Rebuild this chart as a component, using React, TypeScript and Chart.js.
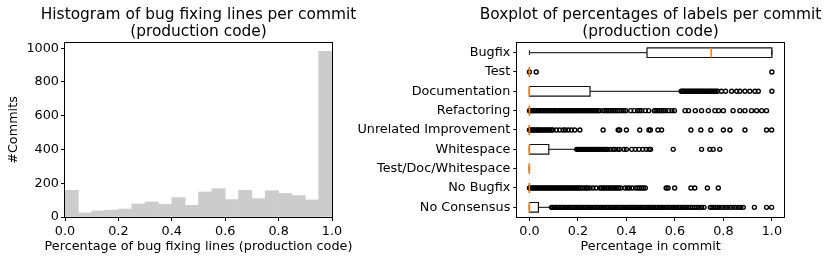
import React, { useEffect, useRef } from 'react';
import { Chart, registerables } from 'chart.js';

Chart.register(...registerables);
Chart.defaults.font.family = "'DejaVu Sans', sans-serif";
Chart.defaults.color = '#000';

// ---------- Histogram data ----------
const histBinEdges = [0, 0.05, 0.1, 0.15, 0.2, 0.25, 0.3, 0.35, 0.4, 0.45, 0.5, 0.55, 0.6, 0.65, 0.7, 0.75, 0.8, 0.85, 0.9, 0.95, 1.0];
const histCounts = [158, 24, 36, 40, 47, 77, 89, 75, 115, 69, 148, 168, 103, 158, 109, 156, 140, 127, 101, 982];
const histXTicks = [0, 0.2, 0.4, 0.6, 0.8, 1.0];
const histYTicks = [0, 200, 400, 600, 800, 1000];
const histYMax = 1031;

// ---------- Boxplot data ----------
const boxCategories = ['Bugfix', 'Test', 'Documentation', 'Refactoring', 'Unrelated Improvement', 'Whitespace', 'Test/Doc/Whitespace', 'No Bugfix', 'No Consensus'];
const whiskerLow = [0, 0, 0, 0, 0, 0, 0, 0, 0];
const quartile1 = [0.485, 0, 0, 0, 0, 0, 0, 0, 0];
const medians = [0.75, 0, 0, 0, 0, 0, 0, 0, 0];
const quartile3 = [1.0, 0, 0.25, 0, 0, 0.08, 0, 0, 0.037];
const whiskerHigh = [1.0, 0, 0.625, 0, 0, 0.194, 0, 0, 0.089];

const outliersBugfix: number[] = [];
const outliersTest = [0.0, 0.028, 1.0];
const outliersDocumentation = [0.626, 0.631, 0.637, 0.642, 0.649, 0.655, 0.66, 0.667, 0.672, 0.678, 0.685, 0.69, 0.697, 0.702, 0.709, 0.714, 0.72, 0.727, 0.732, 0.739, 0.745, 0.751, 0.756, 0.763, 0.769, 0.776, 0.792, 0.809, 0.834, 0.855, 0.868, 0.889, 0.909, 0.93, 0.944, 1.0];
const outliersRefactoring = [0.0, 0.004, 0.009, 0.015, 0.021, 0.027, 0.034, 0.04, 0.047, 0.053, 0.06, 0.066, 0.073, 0.08, 0.086, 0.093, 0.099, 0.106, 0.112, 0.119, 0.126, 0.132, 0.139, 0.145, 0.152, 0.158, 0.165, 0.172, 0.178, 0.185, 0.191, 0.198, 0.204, 0.211, 0.218, 0.224, 0.231, 0.237, 0.244, 0.251, 0.257, 0.264, 0.27, 0.277, 0.284, 0.29, 0.304, 0.311, 0.318, 0.326, 0.333, 0.341, 0.348, 0.356, 0.364, 0.371, 0.38, 0.39, 0.398, 0.418, 0.432, 0.446, 0.455, 0.463, 0.478, 0.492, 0.515, 0.522, 0.53, 0.538, 0.545, 0.553, 0.562, 0.575, 0.588, 0.598, 0.642, 0.656, 0.684, 0.71, 0.738, 0.765, 0.78, 0.8, 0.84, 0.868, 0.889, 0.916, 0.937, 0.958, 0.978];
const outliersUnrelated = [0.0, 0.005, 0.011, 0.017, 0.023, 0.029, 0.035, 0.041, 0.047, 0.053, 0.06, 0.066, 0.072, 0.078, 0.085, 0.091, 0.097, 0.111, 0.125, 0.139, 0.148, 0.16, 0.173, 0.187, 0.208, 0.304, 0.366, 0.372, 0.4, 0.455, 0.493, 0.499, 0.53, 0.545, 0.666, 0.707, 0.748, 0.8, 0.827, 0.889, 0.978, 0.999];
const outliersWhitespace = [0.195, 0.2, 0.206, 0.212, 0.218, 0.224, 0.23, 0.236, 0.242, 0.248, 0.254, 0.26, 0.266, 0.272, 0.278, 0.284, 0.29, 0.296, 0.302, 0.309, 0.316, 0.322, 0.333, 0.345, 0.352, 0.365, 0.372, 0.39, 0.4, 0.422, 0.437, 0.452, 0.467, 0.482, 0.494, 0.5, 0.593, 0.71, 0.744, 0.758, 0.785];
const outliersTestDocWhitespace: number[] = [];
const outliersNoBugfix = [0.0, 0.005, 0.011, 0.017, 0.023, 0.029, 0.035, 0.041, 0.047, 0.053, 0.059, 0.065, 0.071, 0.077, 0.083, 0.089, 0.095, 0.101, 0.107, 0.113, 0.119, 0.125, 0.131, 0.137, 0.143, 0.149, 0.155, 0.161, 0.167, 0.173, 0.179, 0.185, 0.191, 0.197, 0.203, 0.21, 0.218, 0.226, 0.234, 0.24, 0.25, 0.262, 0.275, 0.29, 0.297, 0.304, 0.311, 0.318, 0.325, 0.332, 0.339, 0.346, 0.353, 0.36, 0.368, 0.376, 0.394, 0.404, 0.413, 0.424, 0.438, 0.447, 0.455, 0.463, 0.47, 0.478, 0.564, 0.572, 0.599, 0.666, 0.682, 0.734, 0.779];
const outliersNoConsensus = [0.091, 0.096, 0.103, 0.109, 0.116, 0.122, 0.13, 0.136, 0.143, 0.149, 0.157, 0.163, 0.17, 0.176, 0.184, 0.19, 0.197, 0.203, 0.211, 0.217, 0.224, 0.23, 0.238, 0.244, 0.251, 0.257, 0.265, 0.271, 0.278, 0.284, 0.292, 0.298, 0.305, 0.311, 0.319, 0.325, 0.332, 0.338, 0.346, 0.352, 0.359, 0.365, 0.373, 0.379, 0.386, 0.392, 0.4, 0.406, 0.413, 0.419, 0.427, 0.433, 0.44, 0.446, 0.454, 0.46, 0.467, 0.473, 0.481, 0.487, 0.494, 0.5, 0.508, 0.514, 0.521, 0.527, 0.535, 0.541, 0.548, 0.554, 0.562, 0.568, 0.575, 0.581, 0.589, 0.595, 0.602, 0.608, 0.616, 0.622, 0.629, 0.635, 0.643, 0.649, 0.657, 0.664, 0.672, 0.681, 0.69, 0.699, 0.71, 0.72, 0.746, 0.753, 0.761, 0.768, 0.776, 0.786, 0.797, 0.808, 0.818, 0.829, 0.84, 0.851, 0.862, 0.872, 0.882, 0.928, 0.978, 0.999];
const boxOutliers = [outliersBugfix, outliersTest, outliersDocumentation, outliersRefactoring, outliersUnrelated, outliersWhitespace, outliersTestDocWhitespace, outliersNoBugfix, outliersNoConsensus];
const boxXTicks = [0, 0.2, 0.4, 0.6, 0.8, 1.0];
const boxXMin = -0.05;
const boxXMax = 1.05;

const TICK_FONT = { size: 12.8 };
const LABEL_FONT = { size: 12.8, weight: 'normal' as const, lineHeight: 1.2 };
const TITLE_FONT = { size: 15.4, weight: 'normal' as const, lineHeight: 1.1 };

const framePlugin = {
  id: 'frame',
  afterDraw(chart: any) {
    const { ctx, chartArea } = chart;
    const l = Math.round(chartArea.left) - 0.5;
    const t = Math.round(chartArea.top) - 0.5;
    const r = Math.round(chartArea.right) + 0.5;
    const b = Math.round(chartArea.bottom) + 0.5;
    ctx.save();
    ctx.strokeStyle = '#000';
    ctx.lineWidth = 1;
    ctx.strokeRect(l, t, r - l, b - t);
    ctx.restore();
  },
};

const tickGrid = { display: true, drawOnChartArea: false, tickLength: 4, color: '#000', tickColor: '#000', lineWidth: 1, offset: false };

export default function App() {
  const leftRef = useRef<HTMLCanvasElement>(null);
  const rightRef = useRef<HTMLCanvasElement>(null);

  useEffect(() => {
    const histData = histCounts.map((c, i) => ({ x: (histBinEdges[i] + histBinEdges[i + 1]) / 2, y: c }));
    const left = new Chart(leftRef.current as HTMLCanvasElement, {
      type: 'bar',
      data: {
        datasets: [{
          data: histData as any,
          backgroundColor: '#cccccc',
          borderWidth: 0,
          barPercentage: 1,
          categoryPercentage: 1,
        }],
      },
      options: {
        animation: false,
        responsive: false,
        devicePixelRatio: 1,
        layout: { padding: 0 },
        plugins: {
          legend: { display: false },
          tooltip: { enabled: false },
          title: {
            display: true,
            text: ['Histogram of bug fixing lines per commit', '(production code)'],
            font: TITLE_FONT,
            color: '#000',
            padding: { top: 6.5, bottom: 2.6 },
          },
          subtitle: {
            display: true,
            position: 'bottom',
            fullSize: true,
            text: 'Percentage of bug fixing lines (production code)',
            font: LABEL_FONT,
            color: '#000',
            padding: { top: 0, bottom: 7.3 },
          },
        },
        scales: {
          x: {
            type: 'linear',
            min: 0,
            max: 1,
            offset: false,
            afterBuildTicks: (s: any) => { s.ticks = histXTicks.map((v) => ({ value: v })); },
            ticks: { callback: (v: any) => Number(v).toFixed(1), font: TICK_FONT, color: '#000', padding: 3, maxRotation: 0, autoSkip: false },
            grid: tickGrid,
            border: { display: false },
            afterFit: (s: any) => { s.height = 22.34; },
          },
          y: {
            type: 'linear',
            min: 0,
            max: histYMax,
            afterBuildTicks: (s: any) => { s.ticks = histYTicks.map((v) => ({ value: v })); },
            ticks: { callback: (v: any) => String(v), font: TICK_FONT, color: '#000', padding: 2 },
            grid: tickGrid,
            border: { display: false },
            title: { display: true, text: '#Commits', font: LABEL_FONT, color: '#000', padding: { top: 6.3, bottom: 0 } },
            afterFit: (s: any) => { s.width = 65; },
          },
          yPad: {
            type: 'linear',
            position: 'right',
            display: true,
            grid: { display: false },
            ticks: { display: false },
            border: { display: false },
            afterFit: (s: any) => { s.width = 65; },
          },
        },
      } as any,
      plugins: [framePlugin],
    });

    const datasets: any[] = [];
    boxCategories.forEach((_, i) => {
      const p = i + 1;
      const lineBase = { showLine: true, pointRadius: 0, borderWidth: 1.2, fill: false, tension: 0 };
      datasets.push({ ...lineBase, order: 3, borderColor: '#111', data: [
        { x: quartile1[i], y: p - 0.25 }, { x: quartile3[i], y: p - 0.25 },
        { x: quartile3[i], y: p + 0.25 }, { x: quartile1[i], y: p + 0.25 }, { x: quartile1[i], y: p - 0.25 },
      ] });
      datasets.push({ ...lineBase, order: 3, borderColor: '#333', data: [{ x: whiskerLow[i], y: p }, { x: quartile1[i], y: p }] });
      datasets.push({ ...lineBase, order: 3, borderColor: '#333', data: [{ x: quartile3[i], y: p }, { x: whiskerHigh[i], y: p }] });
      datasets.push({ ...lineBase, order: 3, borderColor: '#333', data: [{ x: whiskerLow[i], y: p - 0.125 }, { x: whiskerLow[i], y: p + 0.125 }] });
      datasets.push({ ...lineBase, order: 3, borderColor: '#333', data: [{ x: whiskerHigh[i], y: p - 0.125 }, { x: whiskerHigh[i], y: p + 0.125 }] });
      datasets.push({ ...lineBase, order: 0, borderColor: '#ff7f0e', borderWidth: 1.6, data: [{ x: medians[i], y: p - 0.25 }, { x: medians[i], y: p + 0.25 }] });
      datasets.push({
        order: 1, showLine: false, pointRadius: 2, pointStyle: 'circle', borderWidth: 1.4,
        borderColor: '#000', backgroundColor: 'rgba(0,0,0,0)',
        data: boxOutliers[i].map((x) => ({ x, y: p })),
      });
    });

    const right = new Chart(rightRef.current as HTMLCanvasElement, {
      type: 'scatter',
      data: { datasets },
      options: {
        animation: false,
        responsive: false,
        devicePixelRatio: 1,
        layout: { padding: 0 },
        plugins: {
          legend: { display: false },
          tooltip: { enabled: false },
          title: {
            display: true,
            text: ['Boxplot of percentages of labels per commit', '(production code)'],
            font: TITLE_FONT,
            color: '#000',
            padding: { top: 6.5, bottom: 2.6 },
          },
        },
        scales: {
          x: {
            type: 'linear',
            min: boxXMin,
            max: boxXMax,
            afterBuildTicks: (s: any) => { s.ticks = boxXTicks.map((v) => ({ value: v })); },
            ticks: { callback: (v: any) => Number(v).toFixed(1), font: TICK_FONT, color: '#000', padding: 3, maxRotation: 0, autoSkip: false },
            grid: tickGrid,
            border: { display: false },
            title: { display: true, text: 'Percentage in commit', font: LABEL_FONT, color: '#000', padding: { top: 0, bottom: 7.3 } },
            afterFit: (s: any) => { s.height = 45; },
          },
          y: {
            type: 'linear',
            min: 0.5,
            max: boxCategories.length + 0.5,
            reverse: true,
            afterBuildTicks: (s: any) => { s.ticks = boxCategories.map((_, i) => ({ value: i + 1 })); },
            ticks: { callback: (v: any) => boxCategories[Math.round(Number(v)) - 1], font: TICK_FONT, color: '#000', padding: 3, autoSkip: false },
            grid: tickGrid,
            border: { display: false },
            afterFit: (s: any) => { s.width = 167.3; },
          },
          yPad: {
            type: 'linear',
            position: 'right',
            display: true,
            grid: { display: false },
            ticks: { display: false },
            border: { display: false },
            afterFit: (s: any) => { s.width = 167; },
          },
        },
      } as any,
      plugins: [framePlugin],
    });

    return () => { left.destroy(); right.destroy(); };
  }, []);

  return (
    <div style={{ position: 'absolute', left: 0, top: 0, width: 831, height: 262, overflow: 'hidden', background: '#fff' }}>
      <canvas ref={leftRef} width={397} height={262} style={{ position: 'absolute', left: 0, top: 0 }} />
      <canvas ref={rightRef} width={601} height={262} style={{ position: 'absolute', left: 350, top: 0 }} />
    </div>
  );
}
